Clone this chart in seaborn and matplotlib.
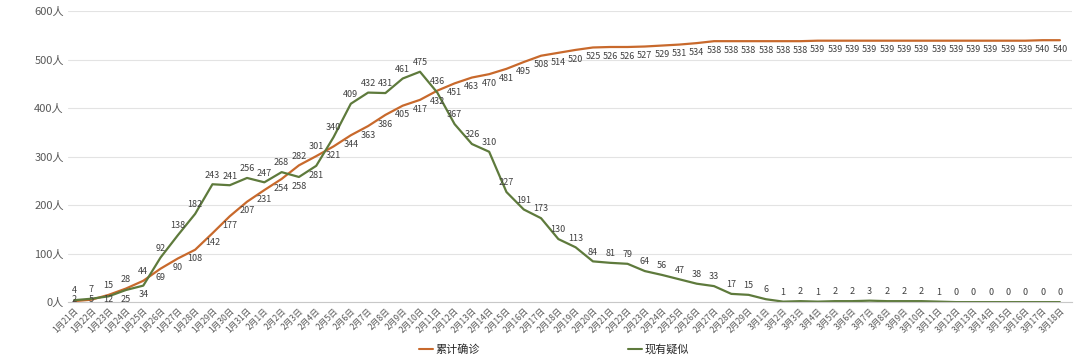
import pandas as pd
import matplotlib.pyplot as plt
import seaborn as sns

# dates on the category axis
dates = ([f"1月{d}日" for d in range(21, 32)]
         + [f"2月{d}日" for d in range(1, 30)]
         + [f"3月{d}日" for d in range(1, 19)])

# 累计确诊
confirmed = [2, 5, 15, 28, 44, 69, 90, 108, 142, 177, 207,
             231, 254, 282, 301, 321, 344, 363, 386, 405, 417, 436, 451, 463, 470,
             481, 495, 508, 514, 520, 525, 526, 526, 527, 529, 531, 534, 538, 538, 538,
             538, 538, 538, 539, 539, 539, 539, 539, 539, 539, 539, 539, 539, 539, 539,
             539, 540, 540]

# 现有疑似
suspected = [4, 7, 12, 25, 34, 92, 138, 182, 243, 241, 256,
             247, 268, 258, 281, 340, 409, 432, 431, 461, 475, 432, 367, 326, 310,
             227, 191, 173, 130, 113, 84, 81, 79, 64, 56, 47, 38, 33, 17, 15,
             6, 1, 2, 1, 2, 2, 3, 2, 2, 2, 1, 0, 0, 0, 0, 0, 0, 0]

series_names = ["累计确诊", "现有疑似"]
colors = ["#C8692C", "#5E7A3C"]
y_ticks = [0, 100, 200, 300, 400, 500, 600]

df = pd.concat([
    pd.DataFrame({"idx": range(len(dates)), "value": confirmed, "series": series_names[0]}),
    pd.DataFrame({"idx": range(len(dates)), "value": suspected, "series": series_names[1]}),
])

sns.set_style("white")
plt.rcParams['font.family'] = ['Noto Sans CJK SC', 'DejaVu Sans']

fig = plt.figure(figsize=(10.8, 3.64), dpi=100)
ax = fig.add_axes([0.063, 0.170, 0.9296, 0.7995])

sns.lineplot(data=df, x="idx", y="value", hue="series", hue_order=series_names,
             palette=colors, linewidth=1.6, ax=ax, legend=True)


def put_label(x, v, up):
    # label centre about 9 px off the line, kept above the axis
    y = v + 19 if up else max(v - 19, 6)
    ax.text(x, y, str(v), ha="center", va="center", fontsize=6.5, color="#404040")


# the higher of two close values goes above, otherwise green above, orange below
for i in range(len(dates)):
    c, s = confirmed[i], suspected[i]
    if abs(c - s) < 40:
        c_up = c >= s
        s_up = not c_up
    else:
        c_up = False
        s_up = True
    put_label(i, c, c_up)
    put_label(i, s, s_up)

ax.set_xlim(-0.35, len(dates) - 1 + 0.7)
ax.set_ylim(0, 600)
ax.set_yticks(y_ticks)
ax.set_yticklabels([f"{v}人" for v in y_ticks], fontsize=8, color="#595959")
ax.set_xticks(range(len(dates)))
ax.set_xticklabels(dates, rotation=45, ha="right", rotation_mode="anchor",
                   fontsize=6.2, color="#595959")
ax.tick_params(axis="both", length=0, pad=3)
ax.set_xlabel("")
ax.set_ylabel("")

ax.grid(axis="y", color="#E3E3E3", linewidth=0.8)
ax.set_axisbelow(True)
for side in ["top", "right", "left"]:
    ax.spines[side].set_visible(False)
ax.spines["bottom"].set_color("#C8C8C8")
ax.spines["bottom"].set_linewidth(0.8)

leg = ax.legend(loc="center", ncol=2, frameon=False, fontsize=8, handlelength=1.3,
                handletextpad=0.2, columnspacing=13.3)
for line in leg.get_lines():
    line.set_linewidth(1.5)
leg.set_bbox_to_anchor((0.513, 0.04), transform=fig.transFigure)

fig.savefig("out.png", dpi=100)
